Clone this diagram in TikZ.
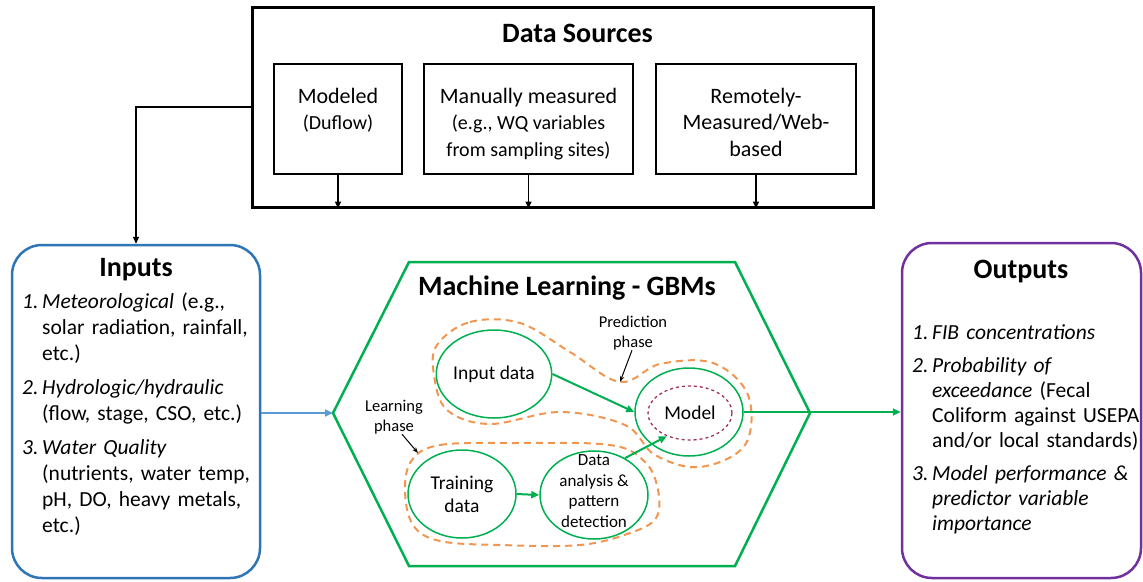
\documentclass[tikz,border=0pt]{standalone}
\usepackage{fontspec}
\setmainfont{Carlito}
\usetikzlibrary{arrows.meta,positioning,shapes.geometric}

\definecolor{inblue}{RGB}{46,117,182}
\definecolor{arrblue}{RGB}{91,155,213}
\definecolor{mlgreen}{RGB}{0,176,80}
\definecolor{outpurple}{RGB}{112,48,160}
\definecolor{phaseorange}{RGB}{240,150,80}
\definecolor{modelred}{RGB}{160,50,90}

\newlength{\numwd}\setlength{\numwd}{20pt}
\newcommand{\nl}{\hfil\break}
\newcommand{\itemgap}{\vspace{8pt}}
\newcommand{\listitem}[2]{\par\hangindent=\numwd\hangafter=1\noindent\makebox[\numwd][l]{\itshape #1}#2\par}

\begin{document}
\begin{tikzpicture}[x=1pt,y=-1pt,
  srcbox/.style={draw, line width=1.8pt, inner sep=0, minimum height=110pt},
  srctext/.style={align=center, anchor=north, inner sep=0, font=\fontsize{22}{26.5}\selectfont},
  title/.style={font=\bfseries\fontsize{28}{32}\selectfont},
  sidebox/.style={draw, line width=2.5pt, rounded corners=30pt},
  listtext/.style={anchor=north west, text width=240pt, align=left, inner sep=0,
    font=\fontsize{21.5}{26}\selectfont},
  blob/.style={draw=mlgreen, ellipse, line width=1.5pt, minimum width=108pt,
    minimum height=88pt, inner sep=0, align=center, font=\fontsize{19.5}{23}\selectfont},
  phase/.style={draw=phaseorange, line width=2pt, dash pattern=on 7pt off 5pt},
  note/.style={align=center, inner sep=0, font=\fontsize{16.5}{20}\selectfont},
  blk/.style={-{Triangle[length=7pt,width=6pt]}, line width=1.5pt},
  grn/.style={-{Triangle[length=8pt,width=7pt]}, draw=mlgreen, line width=2pt}
]
\useasboundingbox (0,0) rectangle (1143,581);

% data sources
\node[draw, line width=3pt, minimum width=621pt, minimum height=200pt] (sources) at (562.5,107) {};
\node[title] (srctitle) at (577.5,33) {Data Sources};
\node[srcbox, minimum width=128pt] (modeled) at (338,119) {};
\node[srcbox, minimum width=209pt] (manual) at (528.5,119) {};
\node[srcbox, minimum width=200pt] (remote) at (756,119) {};
\node[srctext] (modeledtxt) at (338,88) {Modeled\\{\fontsize{20}{26}\selectfont (Duflow)}};
\node[srctext] (manualtxt) at (528.5,88) {Manually measured\\{\fontsize{20}{25}\selectfont (e.g., WQ variables}\\{\fontsize{20}{24}\selectfont from sampling sites)}};
\node[srctext] (remotetxt) at (756,88) {Remotely-\\Measured/Web-\\based};
\draw[blk] (modeled.south) -- (modeled.south |- sources.south);
\draw[blk] (manual.south) -- (manual.south |- sources.south);
\draw[blk] (remote.south) -- (remote.south |- sources.south);

% inputs
\node[sidebox, draw=inblue, minimum width=248pt, minimum height=333pt] (inputs) at (136,411.5) {};
\node[title] (intitle) at (136,270) {Inputs};
\node[listtext] (inlist) at (22,282) {%
  \listitem{1.}{\textit{Meteorological} (e.g.,\nl solar radiation, rainfall,\nl etc.)}\itemgap
  \listitem{2.}{\textit{Hydrologic/hydraulic}\nl (flow, stage, CSO, etc.)}\itemgap
  \listitem{3.}{\textit{Water Quality}\nl (nutrients, water temp,\nl pH, DO, heavy metals,\nl etc.)}};
\draw[blk] (sources.west) -| (inputs.north);

% outputs
\node[sidebox, draw=outpurple, minimum width=239pt, minimum height=335pt] (outputs) at (1021.5,410.5) {};
\node[title] (outtitle) at (1021,272) {Outputs};
\node[listtext, font=\fontsize{21.5}{25}\selectfont] (outlist) at (912,314) {%
  \listitem{1.}{\textit{FIB concentrations}}\itemgap
  \listitem{2.}{\textit{Probability of\nl exceedance} (Fecal\nl Coliform against USEPA\nl and/or local standards)}\itemgap
  \listitem{3.}{\textit{Model performance \&\nl predictor variable\nl importance}}};

% machine learning
\draw[mlgreen, line width=2.5pt] (333,413) coordinate (hexW) -- (409,262) -- (735,262)
  -- (810,413) coordinate (hexE) -- (735,566) -- (409,566) -- cycle;
\node[title] (mltitle) at (567,288) {Machine Learning - GBMs};

\draw[phase] plot[smooth cycle, tension=0.6] coordinates {(437,345) (470,322) (520,323)
  (570,352) (620,382) (660,364) (713,363) (748,395) (745,445) (700,467) (655,455)
  (625,425) (560,412) (490,424) (447,410) (434,375)};
\draw[phase] plot[smooth cycle, tension=0.6] coordinates {(412,460) (440,445) (513,443)
  (610,445) (645,462) (658,490) (656,518) (630,533) (580,545) (500,545) (440,541)
  (413,525) (405,490)};

\node[blob] (indata) at (494,374) {Input data};
\node[blob] (model) at (689,412) {};
\node[draw=modelred, ellipse, dashed, line width=1.3pt, minimum width=84pt,
  minimum height=54pt, inner sep=0, font=\fontsize{19.5}{23}\selectfont] (inner) at (690,413) {Model};
\node[blob] (training) at (462,494) {Training\\data};
\node[blob] (analysis) at (594,495) {};
\node[align=center, inner sep=0, font=\fontsize{17}{20.5}\selectfont] (analysistxt) at (594,491) {Data\\analysis \&\\pattern\\detection};

\draw[grn] (indata.east) -- (model.west);
\draw[grn] (training.east) -- (analysis.west);
\draw[grn] (analysis.50) -- (inner.225);

\node[note] (predlbl) at (633,333) {Prediction\\phase};
\coordinate (predtip) at (620,382);
\draw[-{Stealth[length=6pt]}, line width=1pt] (predlbl.south) ++(-1,0) -- (predtip);
\node[note] (learnlbl) at (394,417) {Learning\\phase};
\coordinate (learntip) at (418,453);
\draw[-{Stealth[length=6pt]}, line width=1pt] (learnlbl.south) ++(8,0) -- (learntip);

% connectors between stages
\draw[-{Triangle[length=8pt,width=7pt]}, arrblue, line width=2pt] (inputs.east |- hexW) -- (hexW);
\draw[grn] (model.east) -- (model.east -| outputs.west);
\end{tikzpicture}
\end{document}
